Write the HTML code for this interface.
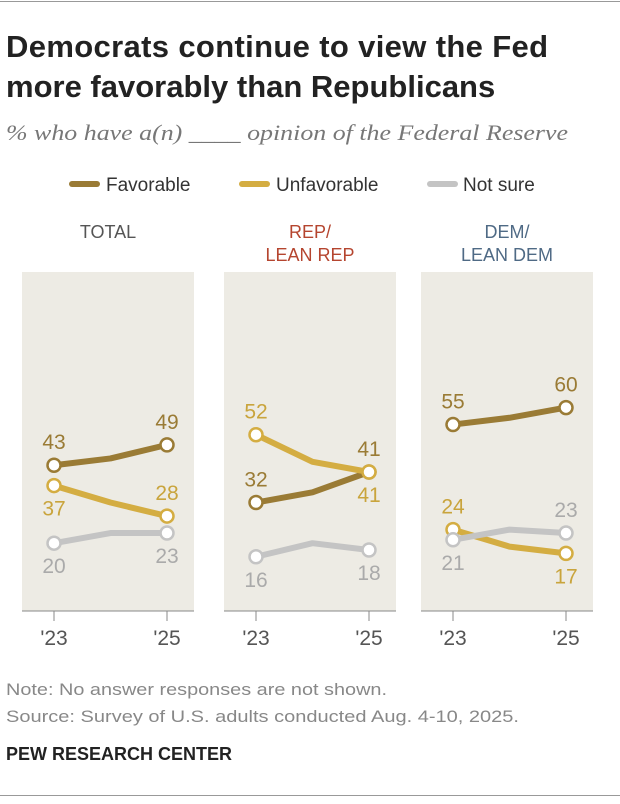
<!DOCTYPE html>
<html><head><meta charset="utf-8"><style>
body{margin:0;background:#fff;font-family:"Liberation Sans",sans-serif;}
</style></head><body>
<svg width="620" height="804" xmlns="http://www.w3.org/2000/svg" style="display:block" font-family="Liberation Sans, sans-serif">
<line x1="0" y1="1.5" x2="620" y2="1.5" stroke="#999" stroke-width="1"/>
<text x="6" y="57" font-size="31" font-weight="bold" fill="#222" textLength="542">Democrats continue to view the Fed</text>
<text x="6" y="97" font-size="31" font-weight="bold" fill="#222">more favorably than Republicans</text>
<text x="6" y="140" font-size="22" font-style="italic" font-family="Liberation Serif, serif" fill="#777" textLength="562" lengthAdjust="spacingAndGlyphs">% who have a(n) ____ opinion of the Federal Reserve</text>
<g>
<line x1="72" y1="184" x2="97" y2="184" stroke="#9a7b35" stroke-width="6" stroke-linecap="round"/>
<text x="106" y="191" font-size="19" fill="#333">Favorable</text>
<line x1="242" y1="184" x2="267" y2="184" stroke="#d4ad42" stroke-width="6" stroke-linecap="round"/>
<text x="276" y="191" font-size="19" fill="#333">Unfavorable</text>
<line x1="430" y1="184" x2="455" y2="184" stroke="#c4c4c4" stroke-width="6" stroke-linecap="round"/>
<text x="463" y="191" font-size="19" fill="#333">Not sure</text>
</g>
<g id="panels"></g>
<text x="6" y="695" font-size="16.5" fill="#888" textLength="381" lengthAdjust="spacingAndGlyphs">Note: No answer responses are not shown.</text>
<text x="6" y="722" font-size="16.5" fill="#888" textLength="513" lengthAdjust="spacingAndGlyphs">Source: Survey of U.S. adults conducted Aug. 4-10, 2025.</text>
<text x="6" y="760" font-size="18" font-weight="bold" fill="#222">PEW RESEARCH CENTER</text>
<line x1="0" y1="795.5" x2="620" y2="795.5" stroke="#999" stroke-width="1"/>
</svg>
<script>
const years = ["'23","'24","'25"];
const panelNames = ["TOTAL","REP/|LEAN REP","DEM/|LEAN DEM"];
const favorable = [[43,45,49],[32,35,41],[55,57,60]];
const unfavorable = [[37,32,28],[52,44,41],[24,19,17]];
const notSure = [[20,23,23],[16,20,18],[21,24,23]];
const favPos=[[1,1],[1,1],[1,1]], unfPos=[[-1,1],[1,-1],[1,-1]], nsPos=[[-1,-1],[-1,-1],[-1,1]];
const headColors=["#555","#b5452f","#4f6a85"];
const panelLeft=[22,224,421], panelW=172;
const y=v=>611-3.39*v;
const x=(p,i)=>panelLeft[p]+32+i*56.5;
const ns="http://www.w3.org/2000/svg", g=document.getElementById('panels');
function mk(t,a,par){const e=document.createElementNS(ns,t);for(const k in a)e.setAttribute(k,a[k]);(par||g).appendChild(e);return e;}
const series=[["favorable",favorable,"#9a7b35","#9a7b35",favPos],["unfavorable",unfavorable,"#d4ad42","#c9a43c",unfPos],["not-sure",notSure,"#c4c4c4","#aaa",nsPos]];
for(let p=0;p<3;p++){
  const bg=mk('rect',{x:panelLeft[p],y:272,width:panelW,height:339,fill:"#edebe4"});
  
  
  const ax=mk('line',{x1:panelLeft[p],x2:panelLeft[p]+panelW,y1:611,y2:611,stroke:"#888","stroke-width":1});
  
  
  const hl=panelNames[p].split('|');
  hl.forEach((h,k)=>{const t=mk('text',{x:panelLeft[p]+panelW/2,y:(hl.length==1?238:238+k*23),"text-anchor":"middle","font-size":18,fill:headColors[p]});t.textContent=h;
    
    });
  [0,2].forEach(i=>{mk('line',{x1:x(p,i),x2:x(p,i),y1:611,y2:621,stroke:"#888"});
    const t=mk('text',{x:x(p,i),y:645,"text-anchor":"middle","font-size":21,fill:"#555"});t.textContent=years[i];
    
    });
  series.forEach(([nm,d,c,tc,pos])=>{
    const pts=d[p].map((v,i)=>x(p,i)+","+y(v)).join(" ");
    const l=mk('polyline',{points:pts,fill:"none",stroke:c,"stroke-width":6,"stroke-linejoin":"round"});
    
    
    [0,2].forEach((i,k)=>{
      const cc=mk('circle',{cx:x(p,i),cy:y(d[p][i]),r:6.5,fill:"#fff",stroke:c,"stroke-width":2.5});
      
      
      const t=mk('text',{x:x(p,i),y:y(d[p][i])+(pos[p][k]>0?-16:30),"text-anchor":"middle","font-size":21,fill:tc});
      t.textContent=d[p][i];
      
      
    });
  });
}
</script>
</body></html>
